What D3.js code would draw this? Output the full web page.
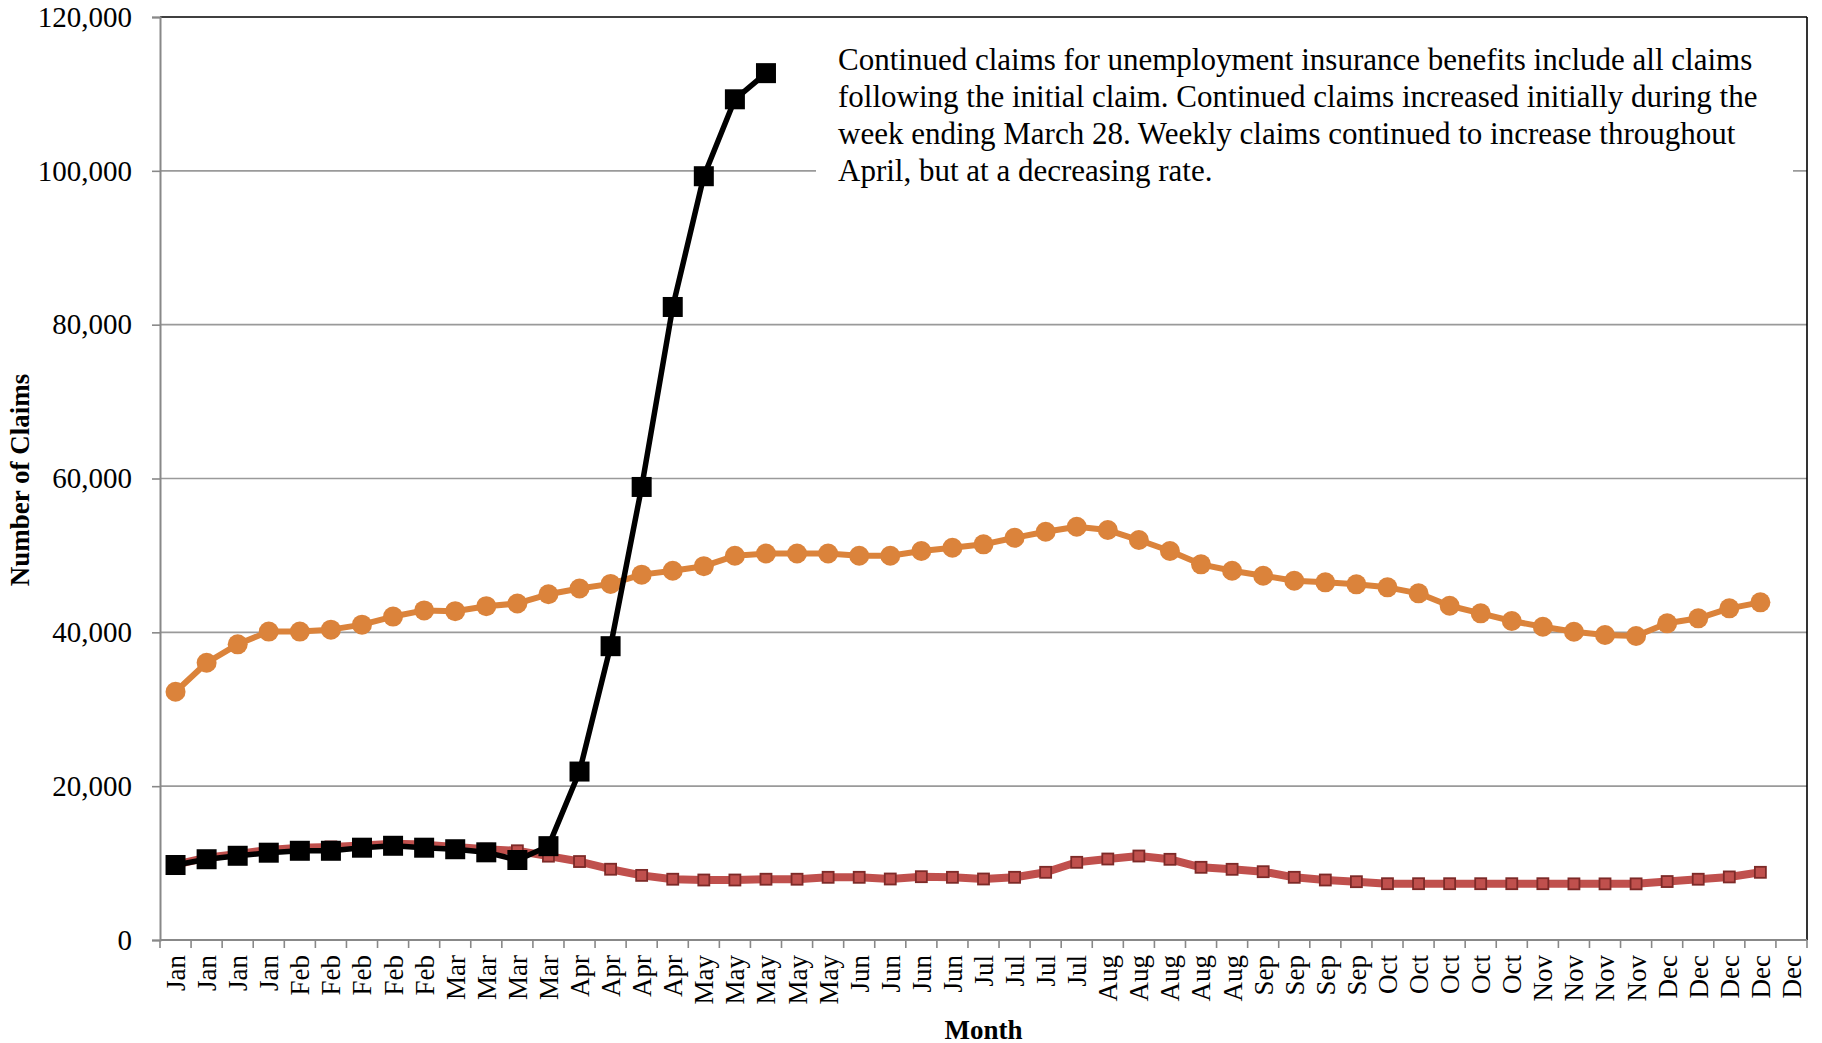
<!DOCTYPE html>
<html><head><meta charset="utf-8">
<script src="https://cdn.jsdelivr.net/npm/d3@7"></script>
<style>
body{margin:0;background:#fff}
svg{display:block}
text{font-family:"Liberation Serif","Times New Roman",serif;fill:#000}
</style>
</head><body>
<svg id="chart" width="1822" height="1043"></svg>
<script>
// ---- data ----
const weekLabels = [
  "Jan","Jan","Jan","Jan",
  "Feb","Feb","Feb","Feb","Feb",
  "Mar","Mar","Mar","Mar",
  "Apr","Apr","Apr","Apr",
  "May","May","May","May","May",
  "Jun","Jun","Jun","Jun",
  "Jul","Jul","Jul","Jul",
  "Aug","Aug","Aug","Aug","Aug",
  "Sep","Sep","Sep","Sep",
  "Oct","Oct","Oct","Oct","Oct",
  "Nov","Nov","Nov","Nov",
  "Dec","Dec","Dec","Dec","Dec"
];
const yTickValues = [0, 20000, 40000, 60000, 80000, 100000, 120000];

const orangeSeries = [32280, 36050, 38440, 40100, 40100, 40350, 41000, 42050, 42850, 42750,
  43400, 43750, 44950, 45700, 46300, 47500, 48000, 48600, 49950, 50250,
  50250, 50250, 49950, 49950, 50570, 51000, 51440, 52300, 53080, 53730,
  53300, 52000, 50570, 48840, 48010, 47360, 46710, 46500, 46240, 45850,
  45070, 43460, 42470, 41470, 40730, 40080, 39650, 39520, 41170, 41820,
  43120, 43900];

const redSeries = [9800, 10700, 11200, 11700, 12000, 12100, 12300, 12500, 12400, 12100,
  11800, 11600, 10900, 10200, 9200, 8400, 7900, 7800, 7800, 7900,
  7900, 8150, 8150, 7930, 8230, 8150, 7930, 8150, 8800, 10100,
  10530, 10920, 10490, 9450, 9190, 8880, 8150, 7800, 7580, 7320,
  7320, 7320, 7320, 7320, 7320, 7300, 7300, 7300, 7600, 7900,
  8200, 8800];

const blackSeries = [9750, 10500, 10950, 11350, 11600, 11600, 12000, 12250, 12000, 11800,
  11400, 10400, 12200, 21900, 38200, 58900, 82300, 99300, 109300, 112700];

const noteLines = [
  "Continued claims for unemployment insurance benefits include all claims",
  "following the initial claim. Continued claims increased initially during the",
  "week ending March 28. Weekly claims continued to increase throughout",
  "April, but at a decreasing rate."
];
const yAxisTitle = "Number of Claims";
const xAxisTitle = "Month";

// ---- layout ----
const L = 160, R = 1807, T = 17, B = 940;
const svg = d3.select("#chart");

const x = d3.scaleBand().domain(d3.range(weekLabels.length)).range([L, R]).padding(0);
const y = d3.scaleLinear().domain([0, 120000]).range([B, T]);
const cx = i => x(i) + x.bandwidth() / 2;

// gridlines
svg.append("g").selectAll("line").data(yTickValues.filter(v => v > 0 && v < 120000)).join("line")
  .attr("x1", L).attr("x2", R).attr("y1", d => y(d)).attr("y2", d => y(d))
  .attr("stroke", "#9a9a9a").attr("stroke-width", 1.6);

// plot border (top and right black)
svg.append("line").attr("x1", L).attr("x2", R).attr("y1", T).attr("y2", T).attr("stroke", "#000").attr("stroke-width", 1.6);
svg.append("line").attr("x1", R).attr("x2", R).attr("y1", T).attr("y2", B).attr("stroke", "#000").attr("stroke-width", 1.6);

// y axis
const yAxis = d3.axisLeft(y).tickValues(yTickValues).tickSize(8).tickPadding(20).tickFormat(d3.format(","));
const gy = svg.append("g").attr("transform", `translate(${L},0)`).call(yAxis);
gy.select(".domain").attr("stroke", "#888").attr("stroke-width", 2);
gy.selectAll(".tick line").attr("stroke", "#888").attr("stroke-width", 1.6);
gy.selectAll(".tick text").attr("font-size", 29).attr("font-family", "Liberation Serif").attr("fill", "#111");

// x axis: ticks at category boundaries
const bounds = d3.range(weekLabels.length + 1);
svg.append("line").attr("x1", L).attr("x2", R).attr("y1", B).attr("y2", B).attr("stroke", "#888").attr("stroke-width", 2.2);
svg.append("g").selectAll("line").data(bounds).join("line")
  .attr("x1", d => L + d * x.step()).attr("x2", d => L + d * x.step())
  .attr("y1", B).attr("y2", B + 8).attr("stroke", "#888").attr("stroke-width", 1.6);
svg.append("g").selectAll("text").data(weekLabels).join("text")
  .attr("transform", (d, i) => `translate(${cx(i)},955) rotate(-90)`)
  .attr("text-anchor", "end").attr("dy", "0.35em")
  .attr("font-size", 27).attr("fill", "#111")
  .text(d => d);

// annotation box (covers gridline)
svg.append("rect").attr("x", 816).attr("y", 32).attr("width", 977).attr("height", 168).attr("fill", "#fff");
const note = svg.append("text").attr("x", 838).attr("font-size", 31).attr("fill", "#111");
noteLines.forEach((t, i) => {
  note.append("tspan").attr("x", 838).attr("y", 70 + i * 37).text(t);
});

// series lines
const lineGen = d3.line().x((d, i) => cx(i)).y(d => y(d));

// orange
svg.append("path").datum(orangeSeries).attr("d", lineGen)
  .attr("fill", "none").attr("stroke", "#db833b").attr("stroke-width", 6).attr("stroke-linejoin", "round");
svg.append("g").selectAll("circle").data(orangeSeries).join("circle")
  .attr("cx", (d, i) => cx(i)).attr("cy", d => y(d)).attr("r", 10).attr("fill", "#db833b");

// red
svg.append("path").datum(redSeries).attr("d", lineGen)
  .attr("fill", "none").attr("stroke", "#c0504d").attr("stroke-width", 8).attr("stroke-linejoin", "round");
svg.append("g").selectAll("rect").data(redSeries).join("rect")
  .attr("x", (d, i) => cx(i) - 5.5).attr("y", d => y(d) - 5.5).attr("width", 11).attr("height", 11)
  .attr("fill", "#c0504d").attr("stroke", "#7d2a28").attr("stroke-width", 1.8);

// black
svg.append("path").datum(blackSeries).attr("d", lineGen)
  .attr("fill", "none").attr("stroke", "#000").attr("stroke-width", 5.5).attr("stroke-linejoin", "round");
svg.append("g").selectAll("rect").data(blackSeries).join("rect")
  .attr("x", (d, i) => cx(i) - 10).attr("y", d => y(d) - 10).attr("width", 20).attr("height", 20)
  .attr("fill", "#000");

// axis titles
svg.append("text").attr("transform", "translate(29,480) rotate(-90)").attr("text-anchor", "middle")
  .attr("font-size", 27).attr("font-weight", "bold").text(yAxisTitle);
svg.append("text").attr("x", (L + R) / 2).attr("y", 1039).attr("text-anchor", "middle")
  .attr("font-size", 27).attr("font-weight", "bold").text(xAxisTitle);
</script>
</body></html>
